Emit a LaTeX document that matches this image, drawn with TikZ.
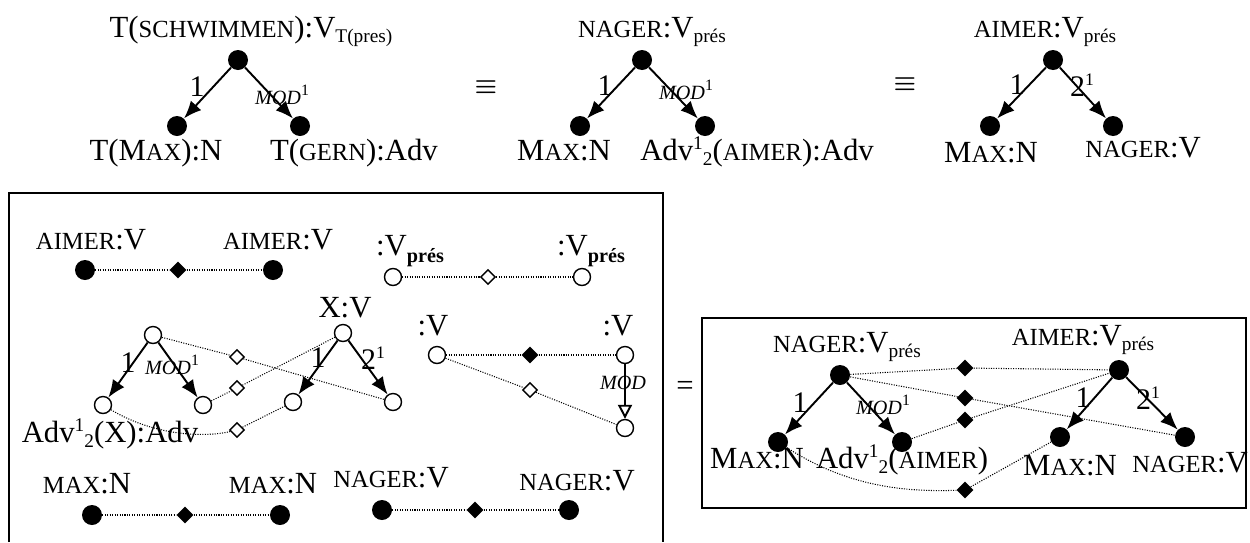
\documentclass[tikz,border=0pt]{standalone}
\usepackage{fontspec}
\setmainfont{Liberation Serif}
\usetikzlibrary{shapes.geometric,arrows.meta}
\newcommand\smc[1]{{\fontsize{14}{14}\selectfont #1}}
\newcommand\subtx[1]{\raisebox{-3pt}{\fontsize{11}{11}\selectfont #1}}
\newcommand\suptx[1]{\raisebox{6pt}{\fontsize{11}{11}\selectfont #1}}
\newcommand\subbf[1]{\raisebox{-4pt}{\fontsize{11.5}{11}\selectfont\bfseries #1}}
\newcommand\modlab{{\fontsize{11.5}{11}\selectfont\itshape MOD}\raisebox{5pt}{\fontsize{9}{9}\selectfont 1}}
\newcommand\twoone{2\raisebox{6pt}{\fontsize{10}{10}\selectfont 1}}
\tikzset{
  dotf/.style={circle, fill=black, minimum size=0.4cm, inner sep=0pt},
  doto/.style={circle, draw, line width=0.8pt, minimum size=0.34cm, inner sep=0pt, fill=white},
  dmf/.style={diamond, fill=black, minimum size=0.34cm, inner sep=0pt},
  dmo/.style={diamond, draw, line width=0.8pt, minimum size=0.3cm, inner sep=0pt, fill=white},
  arr/.style={line width=1.1pt, -{Latex[length=10pt,width=8pt]}},
  oarr/.style={line width=1.1pt, -{Triangle[open,length=8pt,width=8pt]}},
  dots/.style={line width=0.6pt, dash pattern=on 0.6pt off 0.8pt},
  lab/.style={anchor=base, inner sep=0pt, font=\fontsize{17.5}{18}\selectfont},
  el/.style={inner sep=0pt, font=\fontsize{17}{17}\selectfont},
  ml/.style={inner sep=0pt},
  eqv/.style={inner sep=0pt, font=\fontsize{15}{15}\selectfont\boldmath},
  boxl/.style={line width=1.1pt}
}
\begin{document}
\begin{tikzpicture}[x=0.02cm,y=-0.02cm]
\useasboundingbox (0,0) rectangle (1250,542);

% ---------- top tree 1
\node[dotf] (t1r) at (238,60) {};
\node[dotf] (t1a) at (177,126) {};
\node[dotf] (t1b) at (300,126) {};
\node[lab] (t1rl) at (251,37) {T(\smc{SCHWIMMEN}):V\subtx{T(pres)}};
\node[lab] (t1al) at (156,160) {T(M\smc{AX}):N};
\node[lab] (t1bl) at (354,160) {T(\smc{GERN}):Adv};
\draw[arr] (t1r) -- (t1a);
\draw[arr] (t1r) -- (t1b);
\node[el] (t1e1) at (197,87) {1};
\node[ml] (t1e2) at (282,95) {\modlab};

\node[eqv] (eq1) at (486,87) {$\equiv$};

% ---------- top tree 2
\node[dotf] (t2r) at (642,60) {};
\node[dotf] (t2a) at (580,126) {};
\node[dotf] (t2b) at (705,126) {};
\node[lab] (t2rl) at (652,37) {\smc{NAGER}:V\subtx{prés}};
\node[lab] (t2al) at (564,160) {M\smc{AX}:N};
\node[lab] (t2bl) at (757,160) {Adv\suptx{1}\subtx{2}(\smc{AIMER}):Adv};
\draw[arr] (t2r) -- (t2a);
\draw[arr] (t2r) -- (t2b);
\node[el] (t2e1) at (605,86) {1};
\node[ml] (t2e2) at (686,90) {\modlab};

\node[eqv] (eq2) at (905,84) {$\equiv$};

% ---------- top tree 3
\node[dotf] (t3r) at (1053,60) {};
\node[dotf] (t3a) at (990,126) {};
\node[dotf] (t3b) at (1113,126) {};
\node[lab] (t3rl) at (1045,37) {\smc{AIMER}:V\subtx{prés}};
\node[lab] (t3al) at (991,162) {M\smc{AX}:N};
\node[lab] (t3bl) at (1143,157) {\smc{NAGER}:V};
\draw[arr] (t3r) -- (t3a);
\draw[arr] (t3r) -- (t3b);
\node[el] (t3e1) at (1017,85) {1};
\node[el] (t3e2) at (1082,85) {\twoone};

% ---------- left box
\draw[boxl] (9,542) -- (9,193) -- (663,193) -- (663,542);

% row 1
\node[dotf] (a1) at (85,270) {};
\node[dmf] (a2) at (178,270) {};
\node[dotf] (a3) at (273,270) {};
\node[lab] (a1l) at (91,249) {\smc{AIMER}:V};
\node[lab] (a3l) at (278,249) {\smc{AIMER}:V};
\draw[dots] (a1) -- (a2) -- (a3);

\node[doto] (p1) at (393,277) {};
\node[dmo] (p2) at (488,277) {};
\node[doto] (p3) at (582,277) {};
\node[lab] (p1l) at (410,255) {:V\subbf{prés}};
\node[lab] (p3l) at (591,255) {:V\subbf{prés}};
\draw[dots] (p1) -- (p2) -- (p3);

% row 2 : left tree
\node[doto] (lr) at (153,335) {};
\node[doto] (la) at (103,405) {};
\node[doto] (lb) at (203,405) {};
\node[lab] (lal) at (110,442) {Adv\suptx{1}\subtx{2}(X):Adv};
\node[el] (le1) at (128,363) {1};
\node[ml] (le2) at (172,365) {\modlab};

% X tree
\node[doto] (xr) at (343,333) {};
\node[doto] (xa) at (293,402) {};
\node[doto] (xb) at (393,402) {};
\node[lab] (xrl) at (345,317) {X:V};
\node[el] (xe1) at (318,358) {1};
\node[el] (xe2) at (373,358) {\twoone};

\node[dmo] (m1) at (237,357) {};
\node[dmo] (m2) at (237,388) {};
\node[dmo] (m3) at (237,430) {};

\draw[dots] (lr) -- (m1) -- (xb);
\draw[dots] (lb) -- (m2) -- (xr);
\draw[dots] (la) .. controls +(50,30) and +(-35,8) .. (m3) -- (xa);

\draw[arr] (lr) -- (la);
\draw[arr] (lr) -- (lb);
\draw[arr] (xr) -- (xa);
\draw[arr] (xr) -- (xb);

% :V pair
\node[doto] (v1) at (437,355) {};
\node[dmf] (v2) at (530,355) {};
\node[doto] (v3) at (625,355) {};
\node[doto] (v4) at (625,428) {};
\node[dmo] (v5) at (530,390) {};
\node[lab] (v1l) at (433,335) {:V};
\node[lab] (v3l) at (618,335) {:V};
\draw[dots] (v1) -- (v2) -- (v3);
\draw[dots] (v1) -- (v5) -- (v4);
\draw[oarr] (v3) -- (v4);
\node[ml] (vml) at (623,383) {\fontsize{11.5}{11}\selectfont\itshape MOD};

% row 3
\node[dotf] (n1) at (92,515) {};
\node[dmf] (n2) at (185,515) {};
\node[dotf] (n3) at (280,515) {};
\node[lab] (n1l) at (87,493) {\smc{MAX}:N};
\node[lab] (n3l) at (273,493) {\smc{MAX}:N};
\draw[dots] (n1) -- (n2) -- (n3);

\node[dotf] (g1) at (382,510) {};
\node[dmf] (g2) at (475,510) {};
\node[dotf] (g3) at (569,510) {};
\node[lab] (g1l) at (391,487) {\smc{NAGER}:V};
\node[lab] (g3l) at (577,490) {\smc{NAGER}:V};
\draw[dots] (g1) -- (g2) -- (g3);

\node[inner sep=0pt, font=\fontsize{17.5}{18}\selectfont] (eq3) at (685,388) {=};

% ---------- right box
\draw[boxl] (702,318) rectangle (1246,508);

\node[dotf] (rr) at (840,375) {};
\node[dotf] (ra) at (778,442) {};
\node[dotf] (rb) at (902,442) {};
\node[lab] (rrl) at (847,352) {\smc{NAGER}:V\subtx{prés}};
\node[lab] (ral) at (757,468) {M\smc{AX}:N};
\node[lab] (rbl) at (902,468) {Adv\suptx{1}\subtx{2}(\smc{AIMER})};
\node[el] (re1) at (800,403) {1};
\node[ml] (re2) at (883,405) {\modlab};

\node[dotf] (sr) at (1119,370) {};
\node[dotf] (sa) at (1060,437) {};
\node[dotf] (sb) at (1185,437) {};
\node[lab] (srl) at (1083,345) {\smc{AIMER}:V\subtx{prés}};
\node[lab] (sal) at (1070,475) {M\smc{AX}:N};
\node[lab] (sbl) at (1190,472) {\smc{NAGER}:V};
\node[el] (se1) at (1083,398) {1};
\node[el] (se2) at (1148,398) {\twoone};

\node[dmf] (k1) at (965,368) {};
\node[dmf] (k2) at (965,398) {};
\node[dmf] (k3) at (965,420) {};
\node[dmf] (k4) at (965,490) {};

\draw[dots] (rr) -- (k1) -- (sr);
\draw[dots] (rr) -- (k2) -- (sb);
\draw[dots] (rb) -- (k3) -- (sr);
\draw[dots] (ra) .. controls +(70,45) and +(-60,2) .. (k4) -- (sa);

\draw[arr] (rr) -- (ra);
\draw[arr] (rr) -- (rb);
\draw[arr] (sr) -- (sa);
\draw[arr] (sr) -- (sb);
\end{tikzpicture}
\end{document}
